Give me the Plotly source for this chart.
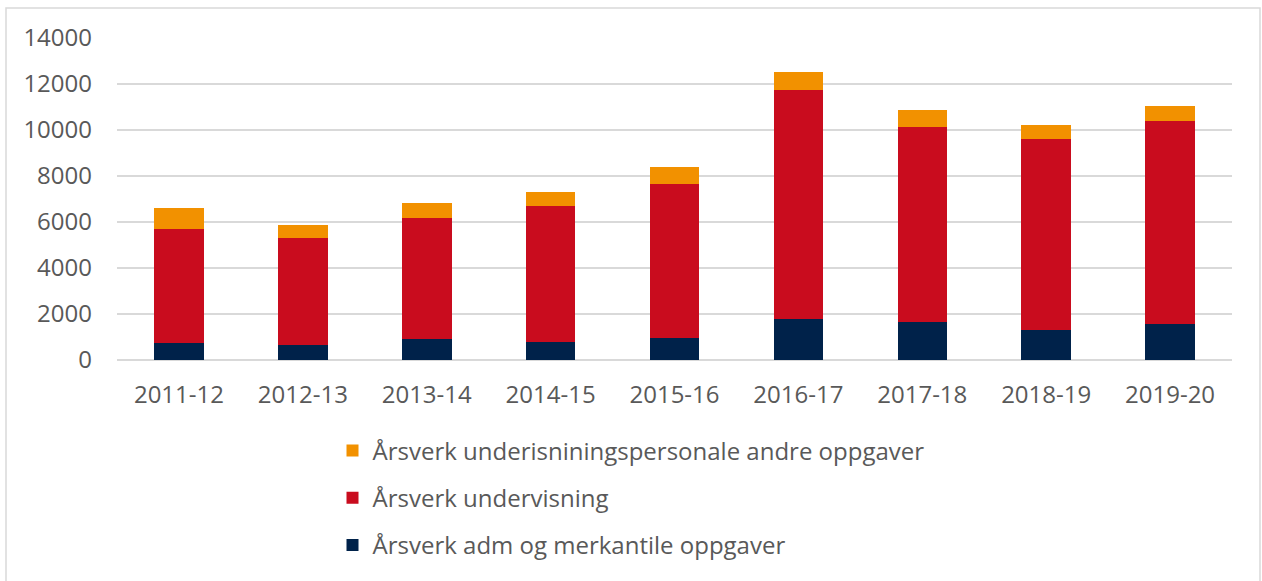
import plotly.graph_objects as go

categories = ["2011-12", "2012-13", "2013-14", "2014-15", "2015-16",
              "2016-17", "2017-18", "2018-19", "2019-20"]
adm = [730, 670, 910, 800, 960, 1770, 1640, 1300, 1580]
undervisning = [4950, 4620, 5280, 5880, 6690, 9990, 8510, 8300, 8810]
andre = [950, 600, 640, 610, 730, 770, 740, 610, 650]

names = ["Årsverk adm og merkantile oppgaver",
         "Årsverk undervisning",
         "Årsverk underisniningspersonale andre oppgaver"]
colors = ["#00224A", "#C90C1E", "#F29100"]
series = [adm, undervisning, andre]

FONT = "Open Sans"
GREY = "#595959"

fig = go.Figure()
for i, (nm, col, vals) in enumerate(zip(names, colors, series)):
    fig.add_trace(go.Bar(
        x=categories, y=vals, name=nm, marker_color=col,
        marker_line_width=0, legendgroup=f"g{i}", legendrank=3 - i,
        width=0.4,
    ))

fig.update_layout(
    barmode="stack",
    width=1262, height=581,
    margin=dict(l=117, r=30, t=38, b=221, autoexpand=False),
    paper_bgcolor="white", plot_bgcolor="white",
    font=dict(family=FONT, size=24, color=GREY),
    showlegend=True,
    legend=dict(
        orientation="v", traceorder="grouped", tracegroupgap=13,
        xref="container", x=0.5, xanchor="center",
        yref="container", y=0.2625, yanchor="top",
        font=dict(family=FONT, size=24, color=GREY),
        itemwidth=30, bgcolor="rgba(0,0,0,0)",
    ),
    xaxis=dict(
        type="category",
        showgrid=False, showline=False, ticks="",
        tickfont=dict(family=FONT, size=24, color=GREY),
        ticklabelstandoff=18,
    ),
    yaxis=dict(
        range=[0, 14000], dtick=2000, tickformat="d",
        showgrid=True, gridcolor="#D9D9D9", gridwidth=1.5,
        zeroline=True, zerolinecolor="#D9D9D9", zerolinewidth=1.5,
        showline=False, ticks="",
        tickfont=dict(family=FONT, size=24, color=GREY),
        ticklabelstandoff=24,
    ),
    shapes=[dict(
        type="rect", xref="paper", yref="paper",
        x0=(6 - 117) / 1115, x1=(1260 - 117) / 1115,
        y0=(360 - 600) / 322, y1=(360 - 8) / 322,
        line=dict(color="#D9D9D9", width=1.5), fillcolor="rgba(0,0,0,0)",
        layer="below",
    )],
)

fig.write_html(
    "out.html",
    config={"displayModeBar": False},
    post_script="document.body.style.margin='0';document.body.style.overflow='hidden';",
)
